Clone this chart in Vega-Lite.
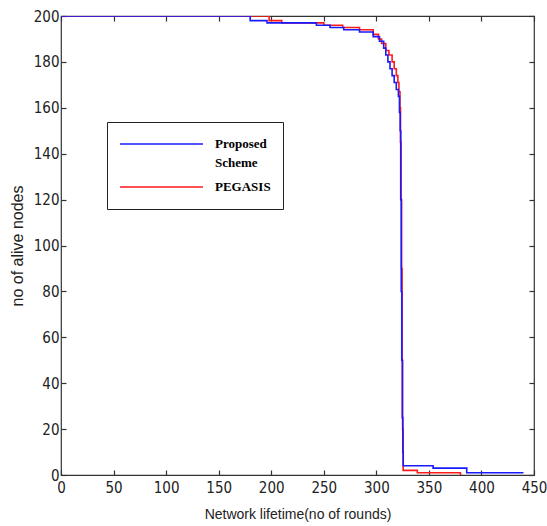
{
  "$schema": "https://vega.github.io/schema/vega-lite/v6.json",
  "width": 473,
  "height": 459,
  "autosize": {"type": "none"},
  "padding": {"left": 61, "top": 16, "right": 13, "bottom": 51},
  "background": "white",
  "config": {
    "view": {"stroke": "#333", "strokeWidth": 1.2},
    "axis": {
      "grid": false,
      "domain": false,
      "offset": -5,
      "tickSize": 5,
      "tickColor": "#333",
      "tickWidth": 1.2,
      "labelFlush": false,
      "labelFont": "Liberation Sans Narrow, DejaVu Sans Condensed, sans-serif",
      "labelFontSize": 15,
      "labelColor": "#222",
      "titleFont": "Liberation Sans, Arial, sans-serif",
      "titleFontWeight": "normal",
      "titleColor": "#222"
    }
  },
  "datasets": {
    "curves": [
      {"scheme": "PEGASIS", "rounds": 0, "alive": 200},
      {"scheme": "PEGASIS", "rounds": 198, "alive": 198},
      {"scheme": "PEGASIS", "rounds": 210, "alive": 197},
      {"scheme": "PEGASIS", "rounds": 250, "alive": 196},
      {"scheme": "PEGASIS", "rounds": 268, "alive": 195},
      {"scheme": "PEGASIS", "rounds": 284, "alive": 194},
      {"scheme": "PEGASIS", "rounds": 297, "alive": 192},
      {"scheme": "PEGASIS", "rounds": 302, "alive": 190},
      {"scheme": "PEGASIS", "rounds": 305, "alive": 188},
      {"scheme": "PEGASIS", "rounds": 309, "alive": 185},
      {"scheme": "PEGASIS", "rounds": 312, "alive": 183},
      {"scheme": "PEGASIS", "rounds": 315, "alive": 180},
      {"scheme": "PEGASIS", "rounds": 317, "alive": 177},
      {"scheme": "PEGASIS", "rounds": 319, "alive": 174},
      {"scheme": "PEGASIS", "rounds": 320.5, "alive": 171},
      {"scheme": "PEGASIS", "rounds": 321.5, "alive": 167},
      {"scheme": "PEGASIS", "rounds": 322.5, "alive": 160},
      {"scheme": "PEGASIS", "rounds": 323, "alive": 145},
      {"scheme": "PEGASIS", "rounds": 323.5, "alive": 120},
      {"scheme": "PEGASIS", "rounds": 324, "alive": 90},
      {"scheme": "PEGASIS", "rounds": 324.5, "alive": 50},
      {"scheme": "PEGASIS", "rounds": 325, "alive": 20},
      {"scheme": "PEGASIS", "rounds": 325.5, "alive": 2},
      {"scheme": "PEGASIS", "rounds": 339, "alive": 1},
      {"scheme": "PEGASIS", "rounds": 380, "alive": 0},
      {"scheme": "PEGASIS", "rounds": 381, "alive": 0},
      {"scheme": "Proposed Scheme", "rounds": 0, "alive": 200},
      {"scheme": "Proposed Scheme", "rounds": 180, "alive": 198},
      {"scheme": "Proposed Scheme", "rounds": 196, "alive": 197},
      {"scheme": "Proposed Scheme", "rounds": 243, "alive": 196},
      {"scheme": "Proposed Scheme", "rounds": 256, "alive": 195},
      {"scheme": "Proposed Scheme", "rounds": 269, "alive": 194},
      {"scheme": "Proposed Scheme", "rounds": 284, "alive": 193},
      {"scheme": "Proposed Scheme", "rounds": 297, "alive": 191},
      {"scheme": "Proposed Scheme", "rounds": 303, "alive": 189},
      {"scheme": "Proposed Scheme", "rounds": 307, "alive": 186},
      {"scheme": "Proposed Scheme", "rounds": 309, "alive": 183},
      {"scheme": "Proposed Scheme", "rounds": 311, "alive": 180},
      {"scheme": "Proposed Scheme", "rounds": 313, "alive": 177},
      {"scheme": "Proposed Scheme", "rounds": 315, "alive": 174},
      {"scheme": "Proposed Scheme", "rounds": 317, "alive": 171},
      {"scheme": "Proposed Scheme", "rounds": 319, "alive": 168},
      {"scheme": "Proposed Scheme", "rounds": 321, "alive": 165},
      {"scheme": "Proposed Scheme", "rounds": 322, "alive": 158},
      {"scheme": "Proposed Scheme", "rounds": 322.7, "alive": 150},
      {"scheme": "Proposed Scheme", "rounds": 323.2, "alive": 120},
      {"scheme": "Proposed Scheme", "rounds": 323.7, "alive": 80},
      {"scheme": "Proposed Scheme", "rounds": 324.2, "alive": 50},
      {"scheme": "Proposed Scheme", "rounds": 324.7, "alive": 25},
      {"scheme": "Proposed Scheme", "rounds": 325.2, "alive": 10},
      {"scheme": "Proposed Scheme", "rounds": 325.6, "alive": 4},
      {"scheme": "Proposed Scheme", "rounds": 354, "alive": 3},
      {"scheme": "Proposed Scheme", "rounds": 386, "alive": 1},
      {"scheme": "Proposed Scheme", "rounds": 440, "alive": 1}
    ]
  },
  "data": {"name": "curves"},
  "layer": [
    {
      "mark": {"type": "line", "interpolate": "step-after", "strokeWidth": 1.6, "clip": true},
      "encoding": {
        "x": {
          "field": "rounds", "type": "quantitative",
          "scale": {"domain": [0, 450], "nice": false},
          "axis": {"orient": "bottom", "values": [0,50,100,150,200,250,300,350,400,450], "labelPadding": 5, "title": "Network lifetime(no of rounds)", "titleFontSize": 14, "titlePadding": 12}
        },
        "y": {
          "field": "alive", "type": "quantitative",
          "scale": {"domain": [0, 200], "nice": false},
          "axis": {"orient": "left", "values": [0,20,40,60,80,100,120,140,160,180,200], "labelPadding": 2, "title": "no of alive nodes", "titleFontSize": 16, "titlePadding": 8}
        },
        "color": {
          "field": "scheme", "type": "nominal",
          "scale": {"domain": ["Proposed Scheme", "PEGASIS"], "range": ["#1a1aff", "#ff1a1a"]},
          "legend": {
            "orient": "none", "legendX": 46, "legendY": 106,
            "title": null,
            "symbolType": "stroke",
            "symbolSize": 6889,
            "symbolStrokeWidth": 1.6,
            "clipHeight": 20,
            "rowPadding": 7,
            "padding": 12,
            "strokeColor": "#222",
            "fillColor": "white",
            "labelFont": "Liberation Serif",
            "labelFontWeight": "bold",
            "labelFontSize": 13,
            "labelColor": "black",
            "labelOffset": 11,
            "labelLimit": 200,
            "labelBaseline": "top",
            "labelExpr": "datum.label == 'Proposed Scheme' ? ['Proposed', 'Scheme'] : datum.label",
            "encode": {"labels": {"update": {"lineHeight": {"value": 19}, "dy": {"value": -6}}}}
          }
        }
      }
    },
    {
      "mark": {"type": "line", "opacity": 0},
      "encoding": {
        "x": {"field": "rounds", "type": "quantitative", "axis": {"orient": "top", "values": [0,50,100,150,200,250,300,350,400,450], "labels": false, "title": null}},
        "y": {"field": "alive", "type": "quantitative", "axis": {"orient": "right", "values": [0,20,40,60,80,100,120,140,160,180,200], "labels": false, "title": null}}
      }
    }
  ],
  "resolve": {"axis": {"x": "independent", "y": "independent"}}
}
